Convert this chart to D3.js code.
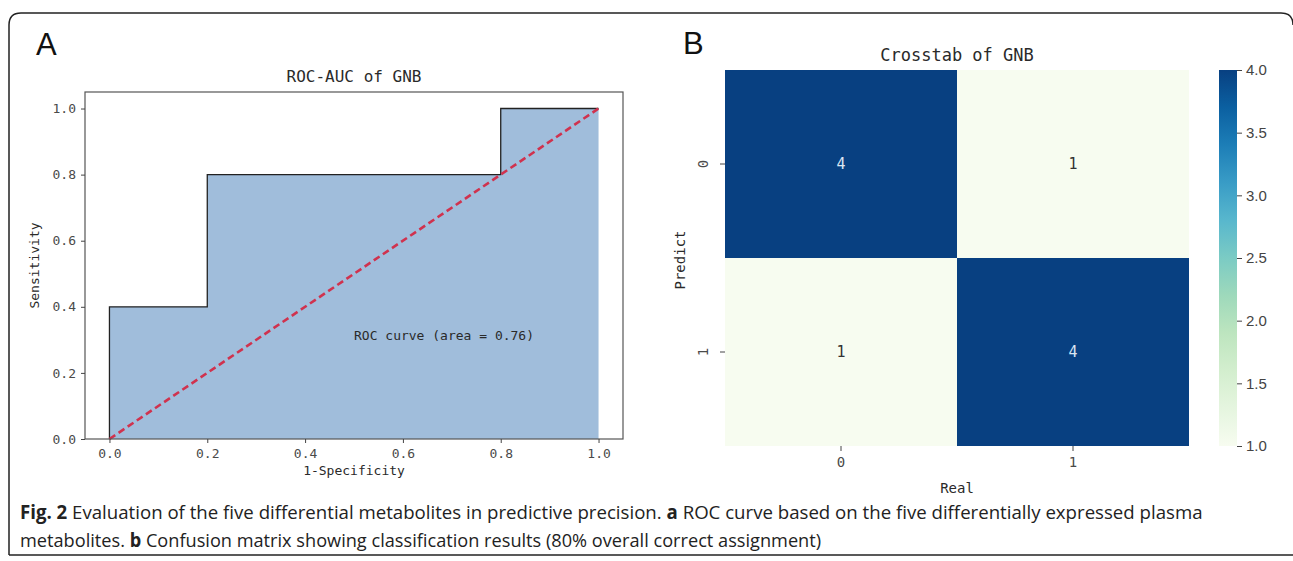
<!DOCTYPE html>
<html>
<head>
<meta charset="utf-8">
<script src="https://cdn.jsdelivr.net/npm/d3@7"></script>
<style>
  html, body { margin: 0; padding: 0; background: #fff; }
  svg { display: block; }
  .mono { font-family: "DejaVu Sans Mono", "Liberation Mono", monospace; fill: #2a2a2a; }
  .axis text { font-family: "DejaVu Sans Mono", "Liberation Mono", monospace; fill: #4a4a4a; }
  .axis line { stroke: #444; }
  .cbar text { font-family: "Liberation Sans", Arial, sans-serif; fill: #444; }
  .cbar line { stroke: #444; }
  .caption { font-family: "Open Sans", "Noto Sans", sans-serif; fill: #222; }
</style>
</head>
<body>
<svg id="fig" width="1293" height="561"></svg>
<script>
// ROC data (panel A)
const fpr = [0, 0, 0.2, 0.2, 0.8, 0.8, 1];
const tpr = [0, 0.4, 0.4, 0.8, 0.8, 1, 1];
const rocTicks = [0, 0.2, 0.4, 0.6, 0.8, 1.0];
const aucLabel = 'ROC curve (area = 0.76)';

// Crosstab data (panel B)
const classes = ['0', '1'];
const crosstab = [[4, 1], [1, 4]];
const cbarTicks = [1.0, 1.5, 2.0, 2.5, 3.0, 3.5, 4.0];

// Caption
const captionLines = [
  [['Fig. 2', true], [' Evaluation of the five differential metabolites in predictive precision. ', false], ['a', true], [' ROC curve based on the five differentially expressed plasma', false]],
  [['metabolites. ', false], ['b', true], [' Confusion matrix showing classification results (80% overall correct assignment)', false]]
];

const svg = d3.select('#fig');

// outer frame
svg.append('path')
  .attr('d', 'M9,555 L9,25 Q9,13 21,13 L1281,13 Q1293,13 1293,25')
  .attr('fill', 'none').attr('stroke', '#222').attr('stroke-width', 1.5);
svg.append('path')
  .attr('d', 'M9,555 L1293,555')
  .attr('fill', 'none').attr('stroke', '#222').attr('stroke-width', 1.5);

// ---------- Panel A ----------
svg.append('text').attr('x', 36).attr('y', 55)
  .style('font-family', '"Liberation Sans", Arial, sans-serif').style('font-size', '31px').attr('fill', '#111')
  .text('A');

const xA = d3.scaleLinear().domain([-0.05, 1.05]).range([85, 623]);
const yA = d3.scaleLinear().domain([0, 1.05]).range([439, 92]);
const roc = fpr.map((f, i) => [f, tpr[i]]);

const gA = svg.append('g');

gA.append('path')
  .datum(roc)
  .attr('d', d3.area().x(d => xA(d[0])).y0(yA(0)).y1(d => yA(d[1])))
  .attr('fill', '#a0bddb');

gA.append('path')
  .datum(roc)
  .attr('d', d3.line().x(d => xA(d[0])).y(d => yA(d[1])))
  .attr('fill', 'none').attr('stroke', '#222').attr('stroke-width', 1.3);

gA.append('line')
  .attr('x1', xA(0)).attr('y1', yA(0)).attr('x2', xA(1)).attr('y2', yA(1))
  .attr('stroke', '#d0324e').attr('stroke-width', 2.6).attr('stroke-dasharray', '7,4');

gA.append('rect')
  .attr('x', xA(-0.05)).attr('y', yA(1.05))
  .attr('width', xA(1.05) - xA(-0.05)).attr('height', yA(0) - yA(1.05))
  .attr('fill', 'none').attr('stroke', '#555').attr('stroke-width', 1.2);

const axXA = gA.append('g').attr('class', 'axis').attr('transform', `translate(0,${yA(0)})`)
  .call(d3.axisBottom(xA).tickValues(rocTicks).tickFormat(d3.format('.1f')).tickSize(4).tickPadding(6));
const axYA = gA.append('g').attr('class', 'axis').attr('transform', `translate(${xA(-0.05)},0)`)
  .call(d3.axisLeft(yA).tickValues(rocTicks).tickFormat(d3.format('.1f')).tickSize(4).tickPadding(5));
[axXA, axYA].forEach(a => {
  a.select('.domain').remove();
  a.selectAll('text').style('font-size', '13px');
});

gA.append('text').attr('class', 'mono')
  .attr('x', (xA(-0.05) + xA(1.05)) / 2).attr('y', 82)
  .attr('text-anchor', 'middle').style('font-size', '16px')
  .text('ROC-AUC of GNB');

gA.append('text').attr('class', 'mono')
  .attr('x', (xA(-0.05) + xA(1.05)) / 2).attr('y', 475)
  .attr('text-anchor', 'middle').style('font-size', '13px')
  .text('1-Specificity');

gA.append('text').attr('class', 'mono')
  .attr('transform', `translate(39,${(yA(0) + yA(1.05)) / 2}) rotate(-90)`)
  .attr('text-anchor', 'middle').style('font-size', '13px')
  .text('Sensitivity');

gA.append('text').attr('class', 'mono')
  .attr('x', xA(0.5)).attr('y', yA(0.3))
  .style('font-size', '13px')
  .text(aucLabel);

// ---------- Panel B ----------
svg.append('text').attr('x', 683).attr('y', 54)
  .style('font-family', '"Liberation Sans", Arial, sans-serif').style('font-size', '31px').attr('fill', '#111')
  .text('B');

const xB = d3.scaleBand().domain(classes).range([725, 1189]);
const yB = d3.scaleBand().domain(classes).range([70, 446]);
const color = d3.scaleSequential(d3.interpolateGnBu).domain([1, 4]);

const gB = svg.append('g');
const cells = [];
crosstab.forEach((row, i) => row.forEach((v, j) => cells.push({ r: classes[i], c: classes[j], v })));

gB.selectAll('rect.cell').data(cells).join('rect')
  .attr('class', 'cell')
  .attr('x', d => xB(d.c)).attr('y', d => yB(d.r))
  .attr('width', xB.bandwidth()).attr('height', yB.bandwidth())
  .attr('fill', d => color(d.v));

gB.selectAll('text.annot').data(cells).join('text')
  .attr('class', 'annot')
  .attr('x', d => xB(d.c) + xB.bandwidth() / 2).attr('y', d => yB(d.r) + yB.bandwidth() / 2)
  .attr('text-anchor', 'middle').attr('dy', '0.35em')
  .style('font-family', '"DejaVu Sans Mono", monospace').style('font-size', '15px')
  .attr('fill', d => d.v > 2.5 ? '#dbe6f2' : '#333')
  .text(d => d.v);

const axXB = gB.append('g').attr('class', 'axis').attr('transform', `translate(0,${yB.range()[1]})`)
  .call(d3.axisBottom(xB).tickSize(5).tickPadding(6));
const axYB = gB.append('g').attr('class', 'axis').attr('transform', `translate(${xB.range()[0]},0)`)
  .call(d3.axisLeft(yB).tickSize(5).tickPadding(6));
[axXB, axYB].forEach(a => {
  a.select('.domain').remove();
  a.selectAll('text').style('font-size', '14px');
});
axYB.selectAll('.tick text')
  .attr('transform', 'rotate(-90)').attr('text-anchor', 'middle')
  .attr('x', 0).attr('y', -22).attr('dy', '0.35em');

gB.append('text').attr('class', 'mono')
  .attr('x', 957).attr('y', 61)
  .attr('text-anchor', 'middle').style('font-size', '17px')
  .text('Crosstab of GNB');

gB.append('text').attr('class', 'mono')
  .attr('x', 957).attr('y', 493)
  .attr('text-anchor', 'middle').style('font-size', '14px')
  .text('Real');

gB.append('text').attr('class', 'mono')
  .attr('transform', `translate(685,260) rotate(-90)`)
  .attr('text-anchor', 'middle').style('font-size', '14px')
  .text('Predict');

// colorbar
const cbY = d3.scaleLinear().domain([1, 4]).range([446, 70]);
const defs = svg.append('defs');
const grad = defs.append('linearGradient').attr('id', 'cbGrad')
  .attr('x1', 0).attr('y1', 1).attr('x2', 0).attr('y2', 0);
d3.range(0, 1.0001, 0.1).forEach(t => {
  grad.append('stop').attr('offset', t).attr('stop-color', d3.interpolateGnBu(t));
});
gB.append('rect')
  .attr('x', 1219).attr('y', cbY(4)).attr('width', 18).attr('height', cbY(1) - cbY(4))
  .attr('fill', 'url(#cbGrad)');
const axCb = gB.append('g').attr('class', 'cbar').attr('transform', 'translate(1237,0)')
  .call(d3.axisRight(cbY).tickValues(cbarTicks).tickFormat(d3.format('.1f')).tickSize(5).tickPadding(4));
axCb.select('.domain').remove();
axCb.selectAll('text').style('font-size', '15px');

// ---------- Caption ----------
// the original uses a condensed face, so each line is squeezed horizontally
const capWidths = [1183, 802];
captionLines.forEach((line, i) => {
  const y = 519 + i * 28;
  const g = svg.append('g');
  const t = g.append('text').attr('class', 'caption')
    .attr('x', 0).attr('y', 0)
    .style('font-size', '19px');
  line.forEach(([s, bold]) => {
    t.append('tspan').attr('font-weight', bold ? 700 : 400).text(s);
  });
  const w = t.node().getComputedTextLength();
  g.attr('transform', `translate(20,${y}) scale(${capWidths[i] / w},1)`);
});
</script>
</body>
</html>
